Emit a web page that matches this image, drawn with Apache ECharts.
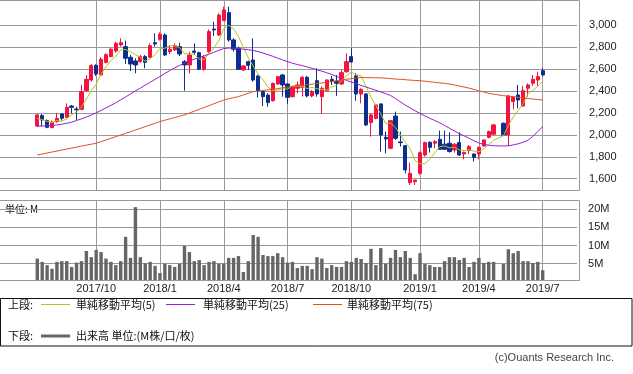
<!DOCTYPE html>
<html><head><meta charset="utf-8">
<script src="https://cdn.jsdelivr.net/npm/echarts@6/dist/echarts.min.js"></script>
<style>html,body{margin:0;padding:0;background:#fff}#c{width:633px;height:374px}</style>
</head><body><div id="c"></div>
<script>
// ---- data ----
const firstWeek = '2017-07-10';
const padBefore = 8, padAfter = 7;
const tickWeeks = ['2017-10-02','2018-01-01','2018-04-02','2018-07-02','2018-10-01','2019-01-07','2019-04-01','2019-07-01'];
const tickLabels = ['2017/10','2018/1','2018/4','2018/7','2018/10','2019/1','2019/4','2019/7'];
const priceTicks = [1600,1800,2000,2200,2400,2600,2800,3000];
const volumeTicks = [5,10,15,20];

const opens = [2080,2175,2129,2065,2120,2190,2160,2262,2235,2232, 2402,2499,2633,2545,2660,2712,2763,2818,2803,2706,
 2672,2666,2712,2706,2839,2870,2909,2757,2773,2803, 2666,2636,2763,2748,2597,2757,2963,2909,3040,3113,
 2864,2788,2590,2666,2681,2536,2393,2362,2311,2463, 2545,2463,2347,2424,2433,2524,2354,2493,2347,2402,
 2505,2484,2463,2575,2712,2536,2372,2372,2111,2150, 2281,1977,1877,2171,1935,1901,1564,1573,1649,1816,
 1932,1923,1959,1914,1923,1862,1929,1825,1856,1825, 1825,1898,1977,2005,null,2105,1998,2302,2363,2262,
 2424,2469,2499,2584];
const closes = [2181,2135,2068,2114,2150,2150,2250,2250,2228,2393, 2505,2630,2554,2688,2730,2779,2833,2839,2697,2645,
 2636,2712,2660,2812,2827,2915,2727,2779,2812,2736, 2636,2727,2751,2597,2706,2940,2955,3091,3137,2864,
 2779,2597,2627,2633,2499,2402,2347,2293,2469,2530, 2454,2341,2433,2454,2524,2354,2393,2372,2424,2499,
 2490,2469,2566,2666,2663,2372,2414,2090,2181,2272, 1998,1962,2129,1968,1928,1680,1649,1588,1837,1929,
 1886,1938,1868,1868,1847,1914,1816,1840,1892,1795, 1886,1953,2029,2090,null,1998,2354,2345,2317,2402,
 2454,2505,2530,2545];
const lows = [2070,2075,2060,2060,2110,2130,2150,2196,2135,2226, 2393,2484,2536,2536,2651,2706,2748,2803,2645,2581,
 2560,2657,2606,2697,2803,2858,2718,2736,2763,2718, 2402,2560,2727,2590,2584,2748,2900,2900,3040,2848,
 2757,2590,2584,2590,2484,2341,2262,2256,2302,2454, 2347,2281,2341,2378,2348,2341,2341,2347,2190,2393,
 2454,2354,2454,2566,2657,2311,2287,2080,1983,2141, 1847,1831,1868,1953,1892,1649,1543,1543,1637,1801,
 1838,1877,1862,1862,1838,1838,1807,1777,1825,1756, 1777,1892,1968,1998,null,1989,1898,2232,2241,2256,
 2348,2445,2445,2530];
const highs = [2190,2190,2140,2130,2200,2196,2287,2272,2256,2454, 2545,2645,2642,2706,2742,2794,2848,2879,2858,2727,
 2697,2727,2727,2833,2924,2933,2924,2818,2833,2839, 2681,2757,2833,2757,2727,2961,3030,3107,3167,3167,
 2879,2803,2636,2675,2879,2545,2408,2378,2475,2536, 2554,2469,2445,2484,2536,2536,2408,2606,2439,2505,
 2536,2545,2590,2742,2788,2560,2424,2378,2196,2281, 2287,2029,2135,2211,2029,1907,1746,1588,1847,1938,
 1938,1953,2038,2038,2023,1923,2023,1847,1907,1831, 1892,1959,2038,2099,null,2111,2363,2354,2454,2445,
 2469,2545,2575,2606];
const volumes = [6.4,5.5,4.6,3.6,5.5,5.7,5.7,4.1,5.3,5.7, 8.5,6.8,8.8,8.2,6.4,5.5,4.6,5.7,12.4,6.6,
 20.6,6.8,5.1,5.5,4.4,2.4,5.0,4.6,4.1,5.0, 9.9,8.2,5.7,6.0,4.6,5.5,5.7,5.0,5.0,6.6,
 6.6,7.1,2.7,5.7,12.9,12.4,7.4,7.1,7.1,7.9, 6.8,5.3,5.5,3.8,4.4,4.4,3.5,6.8,6.4,3.8,
 4.6,4.1,4.1,5.7,5.5,6.6,6.3,5.2,9.1,4.6, 9.3,5.0,6.6,8.8,6.8,8.5,6.6,2.1,7.9,4.9,
 4.6,4.1,4.1,5.7,6.8,6.8,6.0,6.6,4.1,5.5, 6.6,5.2,5.5,5.5,null,4.9,9.0,7.9,8.5,5.7,
 5.7,5.2,5.5,3.2];
const ma5 = [2150,2138,2122,2112,2130,2123,2146,2183,2206,2254, 2325,2401,2462,2554,2621,2676,2717,2774,2776,2759,
 2730,2706,2670,2693,2729,2785,2788,2812,2812,2794, 2738,2738,2732,2689,2683,2744,2790,2858,2966,2997,
 2965,2894,2801,2700,2627,2552,2502,2435,2402,2408, 2419,2417,2445,2442,2441,2421,2432,2419,2413,2408,
 2436,2451,2490,2538,2571,2547,2536,2441,2344,2266, 2191,2101,2108,2066,1997,1933,1871,1763,1736,1737,
 1778,1836,1892,1898,1881,1887,1863,1857,1862,1851, 1846,1873,1911,1951,null,1991,2085,2163,2221,2283,
 2374,2405,2442,2487];
const ma25 = [2078,2080,2082,2085,2090,2096,2105,2115,2130,2145, 2162,2180,2200,2222,2245,2268,2292,2318,2345,2372,
 2400,2425,2452,2478,2505,2530,2558,2585,2610,2632, 2652,2670,2688,2703,2718,2735,2752,2770,2785,2790,
 2788,2784,2780,2775,2768,2758,2745,2730,2715,2698, 2682,2666,2652,2640,2630,2618,2605,2592,2580,2565,
 2550,2532,2512,2495,2480,2465,2450,2435,2420,2405, 2390,2375,2358,2330,2300,2270,2245,2218,2195,2172,
 2150,2130,2110,2085,2060,2035,2010,1990,1968,1945, 1925,1912,1905,1900,null,1898,1900,1908,1918,1932,
 1950,1985,2030,2075];
const ma75 = [1816,1825,1834,1843,1852,1861,1870,1879,1888,1897, 1906,1914,1923,1938,1953,1968,1983,1998,2013,2028,
 2044,2059,2074,2090,2105,2120,2133,2145,2157,2169, 2181,2198,2215,2232,2249,2266,2283,2300,2317,2328,
 2338,2348,2363,2378,2393,2398,2404,2409,2414,2421, 2428,2435,2440,2445,2450,2456,2461,2467,2472,2479,
 2486,2493,2500,2506,2511,2517,2522,2521,2520,2519, 2518,2515,2512,2508,2505,2502,2498,2495,2492,2488,
 2483,2478,2473,2468,2463,2454,2444,2435,2425,2413, 2401,2390,2378,2370,null,2356,2352,2346,2341,2335,
 2330,2326,2321,2317];

// ---- build categories (weekly) ----
const DAY = 86400000;
const t0 = Date.parse(firstWeek + 'T00:00:00Z') - padBefore * 7 * DAY;
const nCat = padBefore + opens.length + padAfter;
const weeks = [];
for (let k = 0; k < nCat; k++) weeks.push(new Date(t0 + k * 7 * DAY).toISOString().slice(0, 10));
const labelOf = {};
tickWeeks.forEach((w, j) => { labelOf[w] = tickLabels[j]; });
const tickSet = new Set(tickWeeks.map(w => weeks.indexOf(w)));
const isTick = (i) => tickSet.has(i);

const pad = (arr, f) => {
  const out = [];
  for (let k = 0; k < padBefore; k++) out.push('-');
  arr.forEach((v, i) => out.push(f(v, i)));
  for (let k = 0; k < padAfter; k++) out.push('-');
  return out;
};
const candleData = pad(opens, (o, i) => o == null ? '-' : [o, closes[i], lows[i], highs[i]]);
const volData = pad(volumes, v => v == null ? '-' : v);
const ma5Data = pad(ma5, v => v == null ? '-' : v);
const ma25Data = pad(ma25, v => v == null ? '-' : v);
const ma75Data = pad(ma75, v => v == null ? '-' : v);

// ---- style ----
const UP = '#f5123e', DOWN = '#0c2f8f', GRID = '#999999';
const C5 = '#b0c81a', C25 = '#9a1ed2', C75 = '#e0521e', VOL = '#666666';
const LAT = 'Liberation Sans, Arial, sans-serif';
const CJK = '"Noto Sans CJK JP", sans-serif';
const gridLeft = -1.96, gridWidth = 579.0;

function xAx(gi, showLabels) {
  return {
    type: 'category', gridIndex: gi, data: weeks, boundaryGap: false,
    axisLine: { show: false }, axisTick: { show: false },
    axisLabel: { show: showLabels, interval: isTick, formatter: v => labelOf[v] || '',
      color: '#222', fontSize: 11, fontFamily: LAT, margin: 3 },
    splitLine: { show: true, interval: isTick, lineStyle: { color: GRID, width: 1 } }
  };
}

const chart = echarts.init(document.getElementById('c'), null, { renderer: 'canvas' });
const txt = (text, x, y, opts) => Object.assign({ type: 'text', silent: true,
  style: Object.assign({ text, x, y, fill: '#111', font: '11px ' + CJK, align: 'left', verticalAlign: 'middle',
    textAlign: 'left', textVerticalAlign: 'middle' }, opts || {}) });
const seg = (x1, x2, y, color, w) => ({ type: 'line', silent: true,
  shape: { x1, y1: y, x2, y2: y }, style: { stroke: color, lineWidth: w } });

chart.setOption({
  animation: false,
  backgroundColor: '#fff',
  grid: [
    { left: gridLeft, width: gridWidth, top: 1, height: 189.5, outerBoundsMode: 'none', containLabel: false },
    { left: gridLeft, width: gridWidth, top: 201, height: 79, outerBoundsMode: 'none', containLabel: false }
  ],
  xAxis: [xAx(0, false), xAx(1, true)],
  yAxis: [
    { type: 'value', gridIndex: 0, position: 'right', min: 1492.6, max: 3218.6, scale: true,
      axisLine: { show: false }, axisTick: { show: false, customValues: priceTicks },
      axisLabel: { customValues: priceTicks, formatter: v => v.toLocaleString('en-US'),
        color: '#222', fontSize: 11, fontFamily: LAT, margin: 12 },
      splitLine: { show: true, lineStyle: { color: GRID, width: 1 } } },
    { type: 'value', gridIndex: 1, position: 'right', min: 0.5, max: 22.29,
      axisLine: { show: false }, axisTick: { show: false, customValues: volumeTicks },
      axisLabel: { customValues: volumeTicks, formatter: v => v + 'M',
        color: '#222', fontSize: 11, fontFamily: LAT, margin: 11 },
      splitLine: { show: true, lineStyle: { color: GRID, width: 1 } } }
  ],
  series: [
    { type: 'candlestick', xAxisIndex: 0, yAxisIndex: 0, data: candleData, barWidth: 3.8,
      itemStyle: { color: UP, color0: DOWN, borderColor: UP, borderColor0: DOWN, borderWidth: 1 } },
    { type: 'line', name: 'ma5', xAxisIndex: 0, yAxisIndex: 0, data: ma5Data, showSymbol: false, symbol: 'none',
      connectNulls: true, lineStyle: { color: C5, width: 1 } },
    { type: 'line', name: 'ma25', xAxisIndex: 0, yAxisIndex: 0, data: ma25Data, showSymbol: false, symbol: 'none',
      connectNulls: true, lineStyle: { color: C25, width: 1 } },
    { type: 'line', name: 'ma75', xAxisIndex: 0, yAxisIndex: 0, data: ma75Data, showSymbol: false, symbol: 'none',
      connectNulls: true, lineStyle: { color: C75, width: 1 } },
    { type: 'bar', xAxisIndex: 1, yAxisIndex: 1, data: volData, barWidth: 3.4,
      itemStyle: { color: VOL } }
  ],
  graphic: [
    { type: 'rect', silent: true, shape: { x: -1, y: 0.5, width: 580.5, height: 190 },
      style: { fill: 'none', stroke: GRID, lineWidth: 1 } },
    { type: 'rect', silent: true, shape: { x: -1, y: 200.5, width: 580.5, height: 80 },
      style: { fill: 'none', stroke: GRID, lineWidth: 1 } },
    txt('単位: M', 5, 209.5, { font: '10px ' + CJK }),
    { type: 'rect', silent: true, shape: { x: 0.5, y: 298.5, width: 631.5, height: 47.5 },
      style: { fill: 'none', stroke: '#111', lineWidth: 1 } },
    txt('上段:', 8, 304.5),
    seg(41, 70, 304.5, C5, 1),
    txt('単純移動平均(5)', 76, 304.5),
    seg(166, 195, 304.5, C25, 1),
    txt('単純移動平均(25)', 203, 304.5),
    seg(313, 342, 304.5, C75, 1),
    txt('単純移動平均(75)', 347, 304.5),
    txt('下段:', 8, 336),
    seg(41, 70, 336, VOL, 3),
    txt('出来高 単位:(M株/口/枚)', 76, 336),
    txt('(c)Ouants Research Inc.', 614, 357.5, { font: '11px ' + LAT, fill: '#444', align: 'right', textAlign: 'right' })
  ]
});
</script>
</body></html>
